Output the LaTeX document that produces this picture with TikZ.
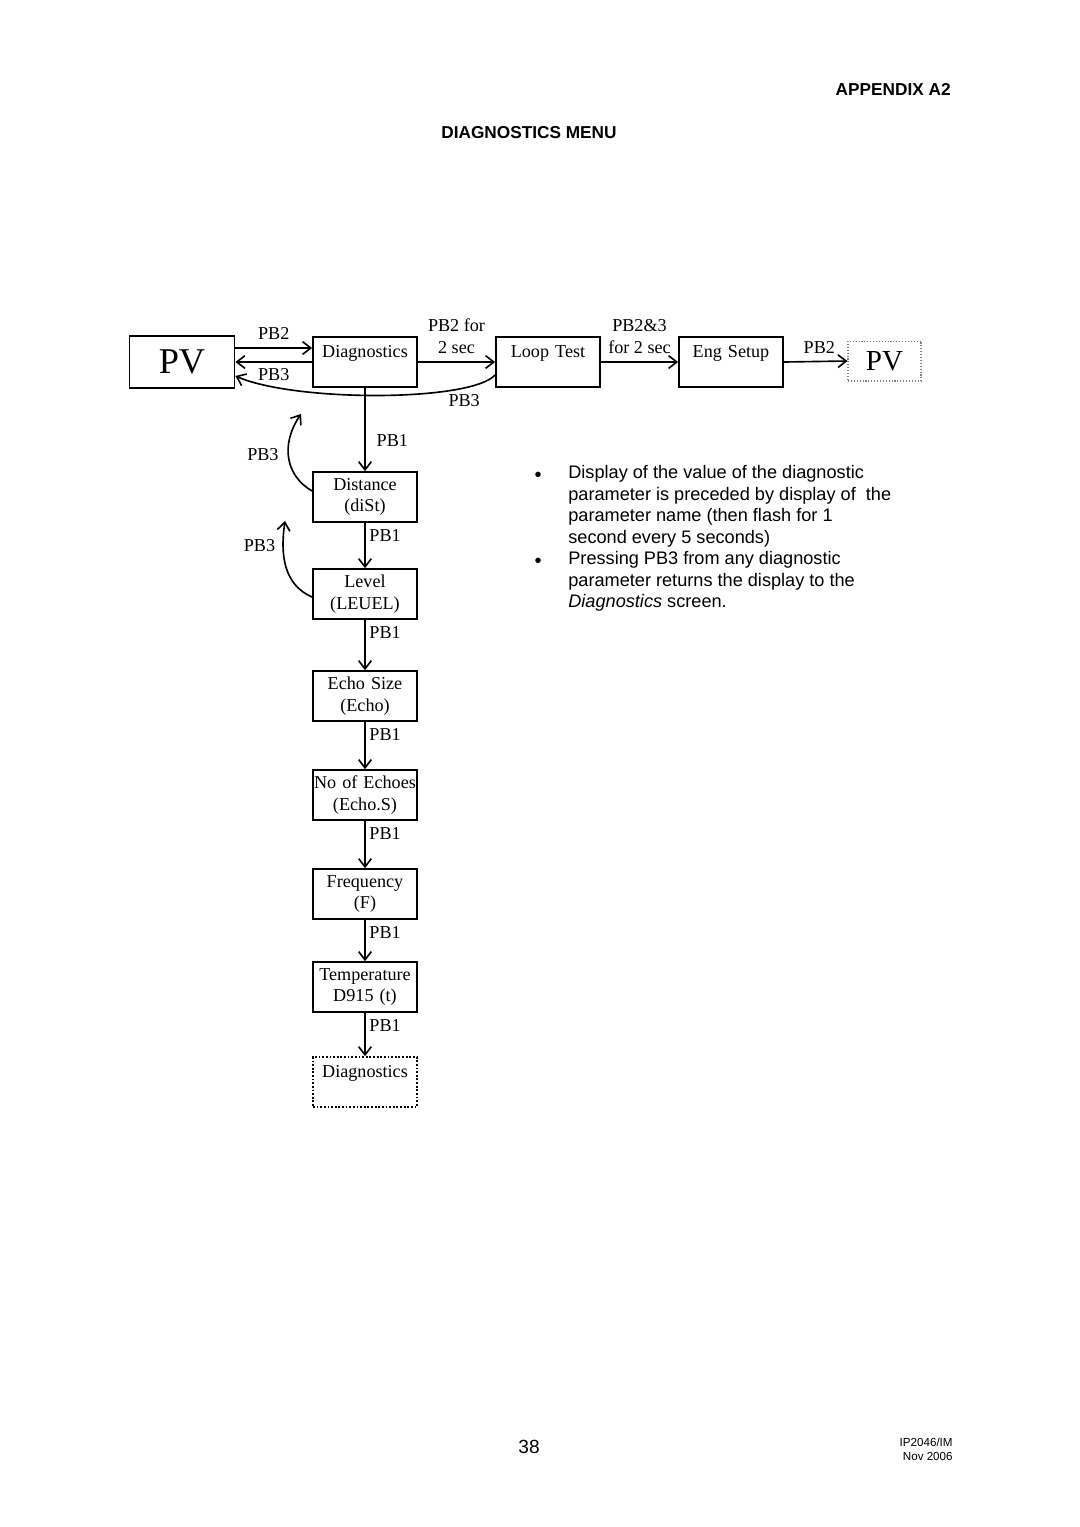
\documentclass[tikz,border=0pt]{standalone}
\usepackage{fontspec}
\setmainfont{Liberation Serif}
\newfontfamily\docsans{Liberation Sans}
\usetikzlibrary{arrows.meta,calc}

\begin{document}
\begin{tikzpicture}[x=0.551pt,y=-0.551pt,
        box/.style={draw,line width=1pt,minimum width=57.3pt,minimum height=27.5pt,text width=57.3pt,align=center,inner xsep=0pt,inner ysep=2pt,font=\fontsize{10}{12}\selectfont},
        arr/.style={line width=0.9pt,-{Straight Barb[length=4.5pt,width=7pt,line width=0.9pt]}},
        lbl/.style={font=\fontsize{10}{12}\selectfont,inner sep=1pt,align=center},
        note/.style={font=\docsans\fontsize{10}{11.9}\selectfont,inner sep=0pt,align=left,anchor=north west}]
        \useasboundingbox (0,0) rectangle (1080,1527);

        \node[font=\docsans\bfseries\fontsize{9.5}{11}\selectfont,anchor=east,inner sep=0pt] (appx) at (951,89) {APPENDIX A2};
        \node[font=\docsans\bfseries\fontsize{9.5}{11}\selectfont,anchor=west,inner sep=0pt] (title) at (441,133) {DIAGNOSTICS MENU};

        \node[draw,line width=1pt,minimum width=57.9pt,minimum height=28.7pt,font=\fontsize{20}{20}\selectfont] (pv) at (182,362) {PV};
        \node[box] (diag) at (365,362) {Diagnostics\\~};
        \node[box] (loop) at (548,362) {Loop Test\\~};
        \node[box] (eng) at (731,362) {Eng Setup\\~};
        \node[draw=gray,densely dotted,line width=0.6pt,minimum width=40.2pt,minimum height=22pt,font=\fontsize{16}{16}\selectfont] (pvend) at (884.5,361) {PV};

        \node[box] (dist) at (365,497) {Distance\\(diSt)};
        \node[box] (lev) at (365,594) {Level\\(LEUEL)};
        \node[box] (echo) at (365,696) {Echo Size\\(Echo)};
        \node[box] (echoes) at (365,795) {No of Echoes\\(Echo.S)};
        \node[box] (freq) at (365,894) {Frequency\\(F)};
        \node[box] (temp) at (365,987) {Temperature\\D915 (t)};
        \node[box,densely dotted] (diagend) at (365,1082) {Diagnostics\\~};

        \draw[arr] ($(pv.east)+(0,-14)$)--node[lbl,above=3pt]{PB2}($(diag.west)+(0,-14)$);
        \draw[arr] (diag.west|-pv.east)--node[lbl,below=2.3pt]{PB3}(pv.east);
        \draw[arr] (diag.east)--node[lbl,above=3pt]{PB2 for\\2 sec}(loop.west);
        \draw[arr] (loop.east)--node[lbl,above=3pt]{PB2\&3\\for 2 sec}(eng.west);
        \draw[arr] (eng.east)--node[lbl,above=3pt,xshift=2pt]{PB2}(pvend.west);
        \draw[arr] ($(loop.west)+(0,13)$) .. controls (470,402) and (295,402) .. node[lbl,pos=0.2,below=2pt]{PB3} ($(pv.east)+(0,14)$);

        \draw[arr] (diag)--node[lbl,pos=0.63,right=5pt]{PB1}(dist);
        \draw[arr] (dist)--node[lbl,pos=0,anchor=north west,xshift=1pt,yshift=-2pt]{PB1}(lev);
        \draw[arr] (lev)--node[lbl,pos=0,anchor=north west,xshift=1pt,yshift=-2pt]{PB1}(echo);
        \draw[arr] (echo)--node[lbl,pos=0,anchor=north west,xshift=1pt,yshift=-2pt]{PB1}(echoes);
        \draw[arr] (echoes)--node[lbl,pos=0,anchor=north west,xshift=1pt,yshift=-2pt]{PB1}(freq);
        \draw[arr] (freq)--node[lbl,pos=0,anchor=north west,xshift=1pt,yshift=-2pt]{PB1}(temp);
        \draw[arr] (temp)--node[lbl,pos=0,anchor=north west,xshift=1pt,yshift=-2pt]{PB1}(diagend);

        \coordinate (back1) at (301,414);
        \coordinate (back2) at (285,521);
        \draw[arr] ($(dist.west)+(0,-6)$) .. controls (286,476) and (280,445) .. node[lbl,pos=0.55,left=4pt]{PB3} (back1);
        \draw[arr] ($(lev.west)+(0,3)$) .. controls (284,585) and (280,555) .. node[lbl,pos=0.75,left=3pt]{PB3} (back2);

        \node[font=\docsans\fontsize{11}{11.9}\selectfont] (dot1) at (538,477) {\textbullet};
        \node[font=\docsans\fontsize{11}{11.9}\selectfont] (dot2) at (538,563) {\textbullet};
        \node[note] (note1) at (568,465) {Display of the value of the diagnostic\\parameter is preceded by display of~ the\\parameter name (then flash for 1\\second every 5 seconds)};
        \node[note] (note2) at (568,551) {Pressing PB3 from any diagnostic\\parameter returns the display to the\\\textit{Diagnostics} screen.};

        \node[font=\docsans\fontsize{10.5}{12}\selectfont] (pagenum) at (529,1447) {38};
        \node[font=\docsans\fontsize{6.4}{7.7}\selectfont,align=right,anchor=north east,inner sep=0pt] (docref) at (953,1438) {IP2046/IM\\Nov 2006};
\end{tikzpicture}
\end{document}
